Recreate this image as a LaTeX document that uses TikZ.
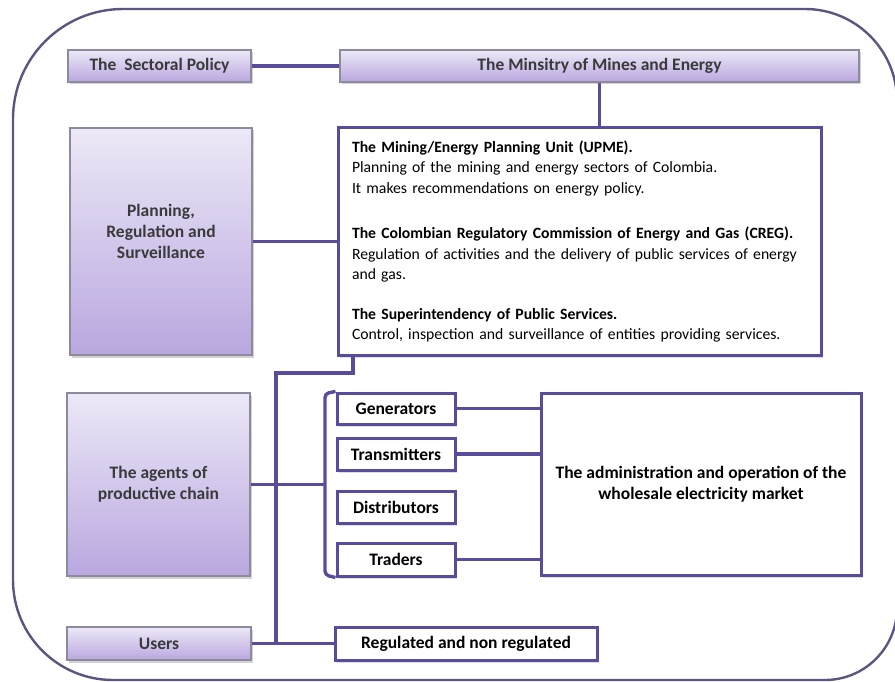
\documentclass[tikz,border=0pt]{standalone}
\usepackage{fontspec}
\setmainfont{Carlito}
\usetikzlibrary{shadows}
\definecolor{lavtop}{HTML}{EDE8F7}
\definecolor{lavbot}{HTML}{B9A7DF}
\definecolor{lavline}{HTML}{8E8A9E}
\definecolor{purp}{HTML}{5B4B9C}
\definecolor{outer}{HTML}{5E5482}
\definecolor{labtxt}{HTML}{3A3A3A}
\tikzset{
  lav/.style={draw=lavline, line width=1.4pt, top color=lavtop, bottom color=lavbot,
    drop shadow={opacity=0.35, shadow xshift=2pt, shadow yshift=-2.5pt},
    font=\fontsize{17.5}{21}\selectfont\bfseries, text=labtxt, align=center, inner sep=0pt},
  wbox/.style={draw=purp, line width=3pt, fill=white,
    drop shadow={opacity=0.25, shadow xshift=2pt, shadow yshift=-2.5pt},
    font=\fontsize{17.5}{21}\selectfont\bfseries, text=black, align=center, inner sep=0pt},
  conn/.style={draw=purp, line width=3.4pt}
}
\begin{document}
\begin{tikzpicture}[x=1pt,y=-1pt]
\useasboundingbox (0,0) rectangle (895,682);
% outer frame
\draw[outer, line width=2.4pt] (13,400) [rounded corners=110pt] |- (500,9)
  [rounded corners=92pt] -| (897,400) [rounded corners=72pt] |- (500,680)
  [rounded corners=100pt] -| (13,400) -- cycle;
% nodes
\node[lav, minimum width=183pt, minimum height=32pt] (pol) at (159.5,66) {The\ \ Sectoral Policy};
\node[lav, minimum width=519pt, minimum height=32pt] (min) at (599.5,66) {The Minsitry of Mines and Energy};
\node[lav, minimum width=182pt, minimum height=227pt] (plan) at (161,241.5) {Planning,\\Regulation and\\Surveillance\\\mbox{}};
\node[wbox, minimum width=483pt, minimum height=227pt, text width=455pt, align=left,
  font=\fontsize{15.7}{20.5}\selectfont] (reg) at (579.5,241.5)
  {\textbf{The Mining/Energy Planning Unit (UPME).}\\
   Planning of the mining and energy sectors of Colombia.\\
   It makes recommendations on energy policy.\\[25pt]
   \textbf{The Colombian Regulatory Commission of Energy and Gas (CREG).}\\
   Regulation of activities and the delivery of public services of energy\\
   and gas.\\[19pt]
   \textbf{The Superintendency of Public Services.}\\
   Control, inspection and surveillance of entities providing services.};
\node[lav, minimum width=183pt, minimum height=183pt] (agents) at (158.5,484.5) {The agents of\\productive chain};
\node[wbox, minimum width=118pt, minimum height=31pt] (gen) at (396,408.5) {Generators};
\node[wbox, minimum width=118pt, minimum height=32pt] (trans) at (396,454) {Transmitters};
\node[wbox, minimum width=118pt, minimum height=32pt] (dist) at (396,507) {Distributors};
\node[wbox, minimum width=118pt, minimum height=33pt] (trad) at (396,559.5) {Traders};
\node[wbox, minimum width=320pt, minimum height=182pt] (market) at (701,484) {The administration and operation of the\\wholesale electricity market};
\node[lav, minimum width=184pt, minimum height=33pt] (users) at (159,643.5) {Users};
\node[wbox, minimum width=262pt, minimum height=33pt] (regul) at (466,643.5) {Regulated and non regulated};
% connectors
\coordinate (j1) at (353,373);
\coordinate (j2) at (276,373);
\coordinate (tip) at (320,484.5);
\coordinate (bt) at (325,393.5);
\coordinate (bb) at (325,575);
\draw[conn] (pol.east) -- (min.west);
\draw[conn] (min.south) -- (min.south |- reg.north);
\draw[conn] (plan.east) -- (reg.west);
\draw[conn] (reg.south -| j1) -- (j1) -- (j2) -- (j2 |- users.east);
\draw[conn] (users.east) -- (regul.west);
\draw[conn] (agents.east) -- (tip) -- (tip -| bt);
\draw[conn, rounded corners=4pt] (gen.north west) -- (bt) -- (bb) -- (trad.south west);
\draw[conn] (gen.east) -- (gen.east -| market.west);
\draw[conn] (trans.east) -- (trans.east -| market.west);
\draw[conn] (trad.east) -- (trad.east -| market.west);
\end{tikzpicture}
\end{document}
